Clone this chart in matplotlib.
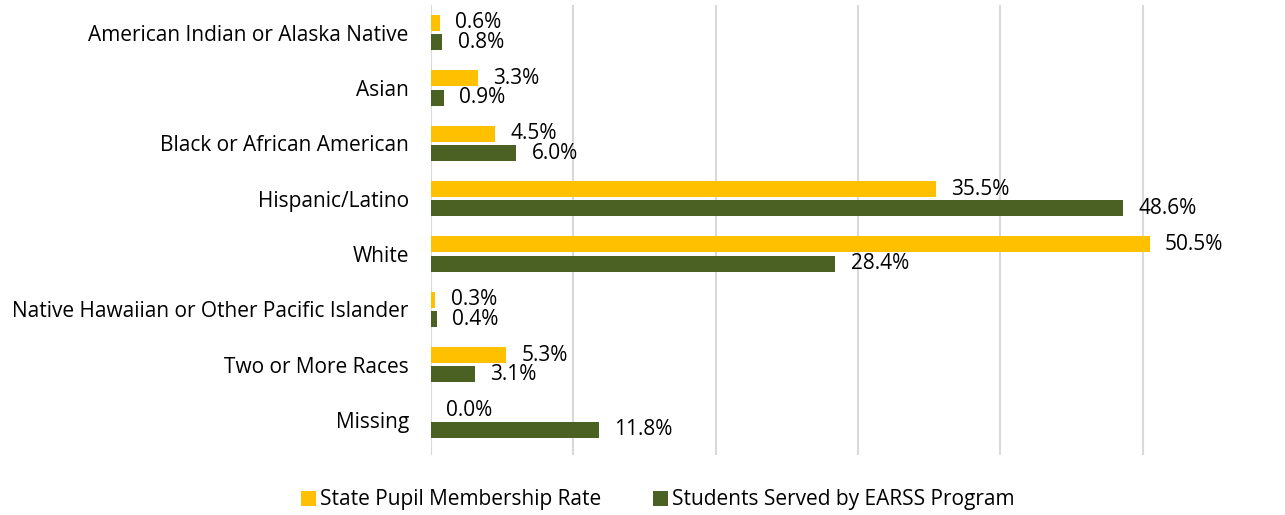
import matplotlib.pyplot as plt
import numpy as np

plt.rcParams['font.family'] = ['Open Sans', 'DejaVu Sans']

categories = ["American Indian or Alaska Native", "Asian", "Black or African American",
              "Hispanic/Latino", "White", "Native Hawaiian or Other Pacific Islander",
              "Two or More Races", "Missing"]
state_rate = [0.6, 3.3, 4.5, 35.5, 50.5, 0.3, 5.3, 0.0]
earss_rate = [0.8, 0.9, 6.0, 48.6, 28.4, 0.4, 3.1, 11.8]

yellow = "#FFC000"
green = "#4A6123"

fig = plt.figure(figsize=(12.85, 5.15), dpi=100)
ax = fig.add_axes([431 / 1285, 1 - 455 / 515, 1 - 431 / 1285, 450 / 515])

y = np.arange(len(categories))
h = 0.29
gap = 0.06
b1 = ax.barh(y - (h + gap) / 2, state_rate, height=h, color=yellow,
             label="State Pupil Membership Rate")
b2 = ax.barh(y + (h + gap) / 2, earss_rate, height=h, color=green,
             label="Students Served by EARSS Program")

for bars, vals in [(b1, state_rate), (b2, earss_rate)]:
    for bar, v in zip(bars, vals):
        ax.annotate(f"{v:.1f}%", (v, bar.get_y() + bar.get_height() / 2),
                    xytext=(11, 0), textcoords="offset points",
                    va="center", ha="left", fontsize=15, color="#000000")

ax.set_xlim(0, 60)
ax.set_ylim(len(categories) - 0.37, -0.5)
ax.set_xticks(np.arange(0, 51, 10))
ax.set_xticklabels([])
ax.tick_params(axis="x", length=0)
ax.tick_params(axis="y", length=0, labelsize=15, pad=16)
ax.set_yticks(y)
ax.set_yticklabels(categories)
ax.grid(axis="x", color="#D9D9D9", linewidth=1.5)
ax.set_axisbelow(True)
for s in ax.spines.values():
    s.set_visible(False)

fig.legend(handles=[b1, b2], loc="center", bbox_to_anchor=(658 / 1285, 1 - 500 / 515),
           ncol=2, frameon=False, fontsize=15, handlelength=0.7, handleheight=0.7,
           handletextpad=0.2, columnspacing=2.5)

fig.savefig("out.png", dpi=100)
